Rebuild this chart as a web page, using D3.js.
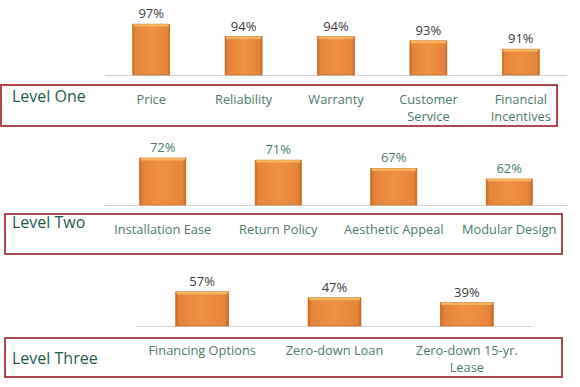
<!DOCTYPE html>
<html><head><meta charset="utf-8">
<script src="https://cdn.jsdelivr.net/npm/d3@7"></script>
<style>body{margin:0;background:#fff}svg{display:block}</style>
</head><body>
<svg id="c" width="580" height="387"></svg>
<script>
const levelNames = ["Level One", "Level Two", "Level Three"];
const cats1 = ["Price", "Reliability", "Warranty", "Customer\nService", "Financial\nIncentives"];
const vals1 = [97, 94, 94, 93, 91];
const cats2 = ["Installation Ease", "Return Policy", "Aesthetic Appeal", "Modular Design"];
const vals2 = [72, 71, 67, 62];
const cats3 = ["Financing Options", "Zero-down Loan", "Zero-down 15-yr.\nLease"];
const vals3 = [57, 47, 39];

const svg = d3.select("#c");
const defs = svg.append("defs");
const g = defs.append("linearGradient").attr("id","barg").attr("x1","0").attr("x2","1").attr("y1","0").attr("y2","0");
[["0%","#c9651f"],["7%","#e5843a"],["50%","#ee9142"],["93%","#e5843a"],["100%","#c9651f"]].forEach(s=>g.append("stop").attr("offset",s[0]).attr("stop-color",s[1]));

const FONT = "'Open Sans', 'Noto Sans', sans-serif";

const panels = [
  {cats:cats1, vals:vals1, xr:[105,567], yd:[84.8,100], yr:[75,11.6], box:[1,85,556,41], lvlY:102, labY:104, valColor:"#3b3b3b"},
  {cats:cats2, vals:vals2, xr:[105,567], yd:[49.6,100], yr:[205,99.2], box:[5,214,557,40], lvlY:228, labY:234, valColor:"#4d7a6a"},
  {cats:cats3, vals:vals3, xr:[136,533], yd:[0,100], yr:[326,266], box:[5,338,557,39], lvlY:364, labY:355, valColor:"#3b3b3b"}
];

panels.forEach((p,i)=>{
  const x = d3.scaleBand().domain(p.cats).range(p.xr).padding(0);
  const y = d3.scaleLinear().domain(p.yd).range(p.yr);
  const gp = svg.append("g");
  const bw = x.bandwidth()*0.4;
  const base = y(p.yd[0]);
  gp.append("line").attr("x1",p.xr[0]).attr("x2",p.xr[1]).attr("y1",base+0.5).attr("y2",base+0.5)
    .attr("stroke","#d3d3d3").attr("stroke-width",1.2);
  const data = p.cats.map((c,j)=>({c, v:p.vals[j]}));
  const bars = gp.selectAll("g.bar").data(data).join("g").attr("class","bar");
  bars.append("rect")
    .attr("x",d=>x(d.c)+x.bandwidth()/2-bw/2).attr("width",bw)
    .attr("y",d=>y(d.v)).attr("height",d=>base-y(d.v))
    .attr("fill","url(#barg)").attr("stroke","#c0601c").attr("stroke-width",0.6);
  bars.append("rect")
    .attr("x",d=>x(d.c)+x.bandwidth()/2-bw/2+1).attr("width",bw-2)
    .attr("y",d=>y(d.v)).attr("height",2.5)
    .attr("fill","#f6b45e");
  bars.append("text")
    .attr("x",d=>x(d.c)+x.bandwidth()/2).attr("y",d=>y(d.v)-6)
    .attr("text-anchor","middle").attr("font-family",FONT).attr("font-size",13)
    .attr("fill",p.valColor).text(d=>d.v+"%");
  gp.append("rect").attr("x",p.box[0]).attr("y",p.box[1]).attr("width",p.box[2]).attr("height",p.box[3])
    .attr("fill","none").attr("stroke","#a8343c").attr("stroke-width",1.8);
  gp.append("text").attr("x",12).attr("y",p.lvlY).attr("font-family",FONT).attr("font-size",16)
    .attr("fill","#1f5a4a").text(levelNames[i]);
  const lab = gp.selectAll("text.cat").data(data).join("text").attr("class","cat")
    .attr("x",d=>x(d.c)+x.bandwidth()/2).attr("y",p.labY)
    .attr("text-anchor","middle").attr("font-family",FONT).attr("font-size",12.8).attr("fill","#4d7a6a");
  lab.each(function(d){
    const t = d3.select(this);
    d.c.split("\n").forEach((line,k)=>{
      t.append("tspan").attr("x",x(d.c)+x.bandwidth()/2).attr("dy",k===0?0:17).text(line);
    });
  });
});
</script>
</body></html>
